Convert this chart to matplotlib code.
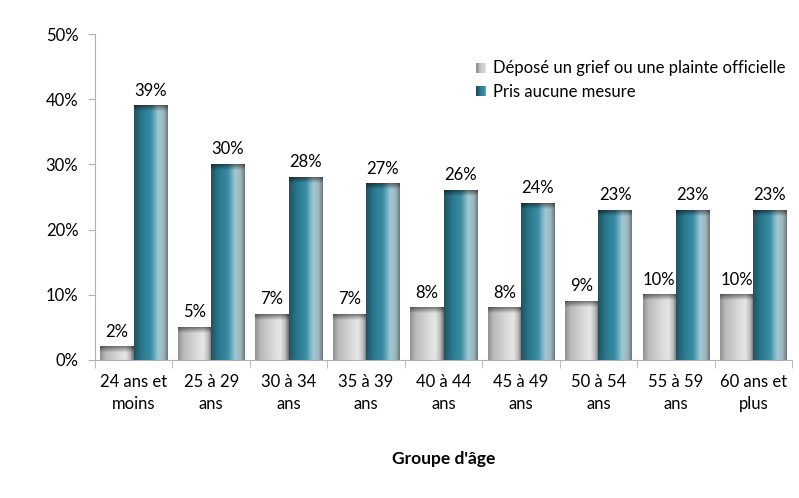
import numpy as np
import matplotlib.pyplot as plt
from matplotlib.colors import LinearSegmentedColormap
from matplotlib.legend_handler import HandlerBase
from matplotlib.patches import Rectangle

plt.rcParams['font.family'] = ['Lato', 'DejaVu Sans']

# données
groupes = ["24 ans et\nmoins", "25 à 29\nans", "30 à 34\nans", "35 à 39\nans", "40 à 44\nans",
           "45 à 49\nans", "50 à 54\nans", "55 à 59\nans", "60 ans et\nplus"]
grief = [2, 5, 7, 7, 8, 8, 9, 10, 10]
aucune = [39, 30, 28, 27, 26, 24, 23, 23, 23]
series_noms = ["Déposé un grief ou une plainte officielle", "Pris aucune mesure"]

# dégradés horizontaux des barres
cmap_gris = LinearSegmentedColormap.from_list("gris", [
    (0.0, "#929292"), (0.15, "#b8b8b8"), (0.55, "#dadada"), (0.75, "#e6e6e6"),
    (0.9, "#bababa"), (1.0, "#707070")])
cmap_bleu = LinearSegmentedColormap.from_list("bleu", [
    (0.0, "#1c5666"), (0.25, "#2a7a90"), (0.5, "#3a8ca3"), (0.72, "#a2c8d3"),
    (0.88, "#9fb6bd"), (1.0, "#6f7c80")])

fig = plt.figure(figsize=(7.99, 4.98), dpi=100)
ax = fig.add_axes([95 / 799, 138 / 498, 697 / 799, 326 / 498])

n = len(groupes)
x = np.arange(n)
largeur = 0.43
px_par_unite = 326 / 50


def barre(x0, h, cmap):
    lignes = max(int(round(h * px_par_unite)), 2)
    cols = cmap(np.linspace(0, 1, 66))[:, :3]
    img = np.repeat(cols[None, :, :], lignes, axis=0)
    # ombre en haut de la barre (biseau)
    k = min(6, lignes)
    fonce = np.linspace(0.45, 0.05, k)
    img[:k] *= (1 - fonce)[:, None, None]
    ax.imshow(img, extent=[x0, x0 + largeur, 0, h], aspect="auto",
              interpolation="bilinear", zorder=2)


for i in range(n):
    x_g = x[i] - largeur
    x_b = x[i]
    barre(x_g, grief[i], cmap_gris)
    barre(x_b, aucune[i], cmap_bleu)
    ax.text(x_g + largeur / 2, grief[i] + 1.1, f"{grief[i]}%", ha="center", va="bottom", fontsize=12)
    ax.text(x_b + largeur / 2, aucune[i] + 1.1, f"{aucune[i]}%", ha="center", va="bottom", fontsize=12)

ax.set_xlim(-0.5, n - 0.5)
ax.set_ylim(0, 50)
ax.set_yticks(range(0, 51, 10))
ax.set_yticklabels([f"{v}%" for v in range(0, 51, 10)], fontsize=12)
ax.set_xticks(x)
ax.set_xticklabels(groupes, fontsize=12, linespacing=1.45)
ax.set_xticks(np.arange(-0.5, n, 1), minor=True)
ax.tick_params(axis="x", which="major", length=0, pad=10)
ax.tick_params(axis="x", which="minor", length=6, color="#b0b0b0")
ax.tick_params(axis="y", length=5, color="#b0b0b0", pad=7)
for s in ["top", "right"]:
    ax.spines[s].set_visible(False)
for s in ["left", "bottom"]:
    ax.spines[s].set_color("#b0b0b0")
ax.set_xlabel("Groupe d'âge", fontsize=12.5, fontweight="bold", labelpad=28)


class HandlerDegrade(HandlerBase):
    def __init__(self, cmap):
        super().__init__()
        self.cmap = cmap

    def create_artists(self, legend, orig_handle, xdescent, ydescent, width, height, fontsize, trans):
        cote = height * 0.85
        x0 = width - cote
        k = 8
        arts = []
        for j in range(k):
            arts.append(Rectangle((x0 + j * cote / k, -ydescent + (height - cote) / 2), cote / k, cote,
                                  facecolor=self.cmap(j / (k - 1) * 0.6), edgecolor="none", transform=trans))
        return arts


h1 = Rectangle((0, 0), 1, 1)
h2 = Rectangle((0, 0), 1, 1)
ax.legend([h1, h2], series_noms, loc="upper right", bbox_to_anchor=(1.012, 0.965), frameon=False,
          fontsize=12, handlelength=0.8, handletextpad=0.4, labelspacing=0.45,
          handler_map={h1: HandlerDegrade(cmap_gris), h2: HandlerDegrade(cmap_bleu)})

fig.savefig("out.png", dpi=100)
